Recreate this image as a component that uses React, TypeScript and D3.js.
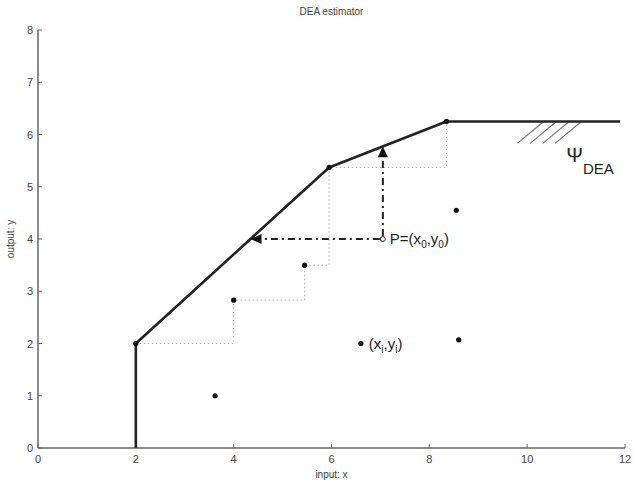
import React from "react"
import * as d3 from "d3"

// axis ticks
const xTicks = [0, 2, 4, 6, 8, 10, 12]
const yTicks = [0, 1, 2, 3, 4, 5, 6, 7, 8]

// DEA frontier (piecewise linear, starts on the x axis)
const frontierX = [2, 2, 5.95, 8.35, 11.9]
const frontierY = [0, 2, 5.37, 6.25, 6.25]

// observations
const obsX = [2, 4, 5.45, 5.95, 8.35, 8.55, 3.62, 6.6, 8.6]
const obsY = [2, 2.83, 3.5, 5.37, 6.25, 4.55, 1.0, 2.0, 2.07]

// FDH staircase (dotted)
const stairX = [2, 4, 4, 5.45, 5.45, 5.95, 5.95, 8.35, 8.35]
const stairY = [2, 2, 2.83, 2.83, 3.5, 3.5, 5.37, 5.37, 6.25]

// point P
const pX = 7.05
const pY = 4.0

// hatching under the flat part of the frontier
const hatchX = [9.8, 10.06, 10.32, 10.57]
const hatchDx = 0.54
const hatchDy = 0.42

const W = 634
const H = 483
const margin = { left: 38, right: 9, top: 30, bottom: 35 }

// frontier value at given x (for the vertical projection)
function frontierAt(x: number) {
  for (let i = 1; i < frontierX.length; i++) {
    const x0 = frontierX[i - 1], x1 = frontierX[i]
    if (x1 > x0 && x >= x0 && x <= x1) {
      return frontierY[i - 1] + ((x - x0) / (x1 - x0)) * (frontierY[i] - frontierY[i - 1])
    }
  }
  return frontierY[frontierY.length - 1]
}
// frontier input at given y (for the horizontal projection)
function frontierInv(y: number) {
  for (let i = 1; i < frontierX.length; i++) {
    const y0 = frontierY[i - 1], y1 = frontierY[i]
    if (frontierX[i] > frontierX[i - 1] && y >= y0 && y <= y1 && y1 > y0) {
      return frontierX[i - 1] + ((y - y0) / (y1 - y0)) * (frontierX[i] - frontierX[i - 1])
    }
  }
  return frontierX[0]
}

const App: React.FC = () => {
  const x = d3.scaleLinear().domain([0, 12]).range([margin.left, W - margin.right])
  const y = d3.scaleLinear().domain([0, 8]).range([H - margin.bottom, margin.top])

  const line = d3
    .line<number>()
    .x((_, i) => x(frontierX[i]))
    .y((d) => y(d))

  const stair = d3
    .line<number>()
    .x((_, i) => x(stairX[i]))
    .y((d) => y(d))

  const leftTip = frontierInv(pY)
  const upTip = frontierAt(pX)
  const ah = 11 // arrow head length
  const aw = 5 // arrow head half width

  const axisColor = "#666"
  const textColor = "#444"
  const font = "'Liberation Sans', Arial, sans-serif"

  return (
    <svg
      width={W}
      height={H}
      style={{ position: "absolute", left: 0, top: 0, background: "#fff" }}
      fontFamily={font}
    >
      {/* title */}
      <text x={(x(0) + x(12)) / 2} y={15} textAnchor="middle" fontSize={10} fill={textColor}>
        DEA estimator
      </text>

      {/* axes */}
      <line x1={x(0)} x2={x(0)} y1={y(0)} y2={y(8)} stroke={axisColor} strokeWidth={1.5} />
      <line x1={x(0)} x2={x(12)} y1={y(0)} y2={y(0)} stroke={axisColor} strokeWidth={1.5} />
      {yTicks.map((t) => (
        <g key={"y" + t}>
          <line x1={x(0)} x2={x(0) + 4} y1={y(t)} y2={y(t)} stroke={axisColor} />
          <text x={x(0) - 5} y={y(t) + 4} textAnchor="end" fontSize={11} fill={textColor}>
            {t}
          </text>
        </g>
      ))}
      {xTicks.map((t) => (
        <g key={"x" + t}>
          <line x1={x(t)} x2={x(t)} y1={y(0)} y2={y(0) - 4} stroke={axisColor} />
          <text x={x(t)} y={y(0) + 15} textAnchor="middle" fontSize={11} fill={textColor}>
            {t}
          </text>
        </g>
      ))}
      <text x={(x(0) + x(12)) / 2} y={H - 5} textAnchor="middle" fontSize={10} fill={textColor}>
        input: x
      </text>
      <text
        transform={`translate(14, ${(y(0) + y(8)) / 2}) rotate(-90)`}
        textAnchor="middle"
        fontSize={10}
        fill={textColor}
      >
        output: y
      </text>

      {/* FDH staircase */}
      <path d={stair(stairY) ?? ""} fill="none" stroke="#aaa" strokeWidth={1} strokeDasharray="1.5,2.5" />

      {/* hatching */}
      {hatchX.map((hx) => (
        <line
          key={hx}
          x1={x(hx)}
          y1={y(frontierY[frontierY.length - 1] - hatchDy)}
          x2={x(hx + hatchDx)}
          y2={y(frontierY[frontierY.length - 1])}
          stroke="#777"
          strokeWidth={1.2}
        />
      ))}

      {/* frontier */}
      <path d={line(frontierY) ?? ""} fill="none" stroke="#222" strokeWidth={2.6} strokeLinejoin="round" />

      {/* projections */}
      <line
        x1={x(pX) - 3}
        y1={y(pY)}
        x2={x(leftTip) + ah}
        y2={y(pY)}
        stroke="#222"
        strokeWidth={2}
        strokeDasharray="7,4,2,4"
      />
      <path
        d={`M${x(leftTip)},${y(pY)} L${x(leftTip) + ah},${y(pY) - aw} L${x(leftTip) + ah},${y(pY) + aw} Z`}
        fill="#111"
      />
      <line
        x1={x(pX)}
        y1={y(pY) - 3}
        x2={x(pX)}
        y2={y(upTip) + ah}
        stroke="#222"
        strokeWidth={2}
        strokeDasharray="7,4,2,4"
      />
      <path
        d={`M${x(pX)},${y(upTip)} L${x(pX) - aw},${y(upTip) + ah} L${x(pX) + aw},${y(upTip) + ah} Z`}
        fill="#111"
      />

      {/* observations */}
      {obsX.map((ox, i) => (
        <circle key={i} cx={x(ox)} cy={y(obsY[i])} r={2.6} fill="#111" />
      ))}
      <circle cx={x(pX)} cy={y(pY)} r={2.5} fill="#fff" stroke="#333" strokeWidth={1} />

      {/* labels */}
      <text x={x(pX) + 7} y={y(pY) + 5} fontSize={15} fill="#222">
        P=(x<tspan fontSize={10} dy={4}>0</tspan>
        <tspan dy={-4}>,y</tspan>
        <tspan fontSize={10} dy={4}>0</tspan>
        <tspan dy={-4}>)</tspan>
      </text>
      <text x={x(6.6) + 8} y={y(2.0) + 5} fontSize={15} fill="#222">
        (x<tspan fontSize={10} dy={4}>i</tspan>
        <tspan dy={-4}>,y</tspan>
        <tspan fontSize={10} dy={4}>i</tspan>
        <tspan dy={-4}>)</tspan>
      </text>
      <text x={x(10.8)} y={162} fontSize={20} fill="#222">
        Ψ<tspan fontSize={15} dy={12}>DEA</tspan>
      </text>
    </svg>
  )
}

export default App
